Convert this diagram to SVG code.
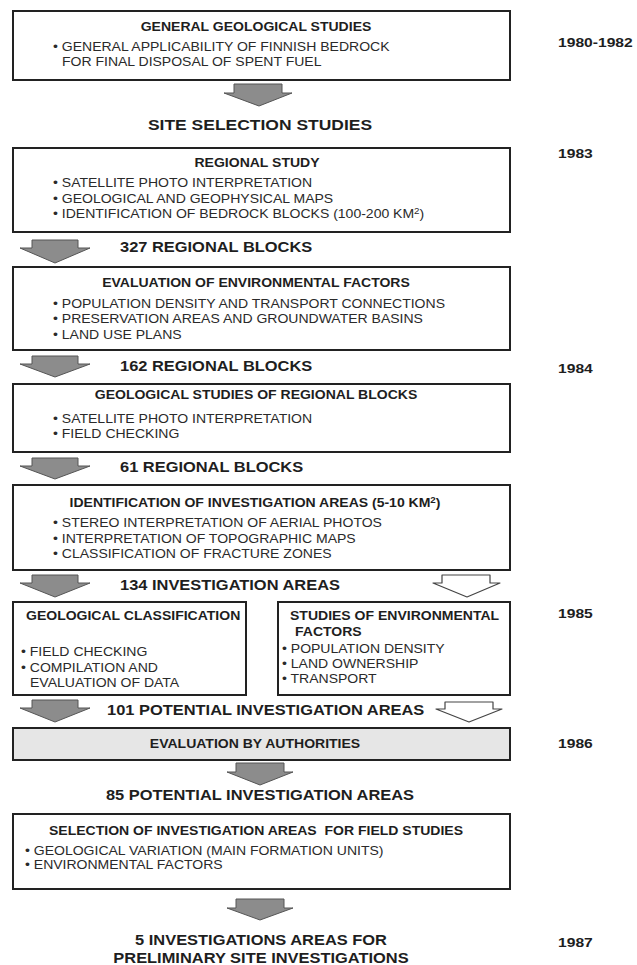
<svg xmlns="http://www.w3.org/2000/svg" width="637" height="965" viewBox="0 0 637 965">
<style>
text{font-family:"Liberation Sans",Arial,sans-serif;fill:#1e1e1e}
.t{font-size:12.2px;fill:#2a2a2a}
.h{font-size:12.2px;font-weight:bold}
.L{font-size:14.3px;font-weight:bold}
.y{font-size:13.6px;font-weight:bold}
.m{text-anchor:middle}
.box{fill:#fff;stroke:#222;stroke-width:2}
.gray{fill:#e6e6e6}
.ga{fill:#8c8c8c;stroke:#555;stroke-width:1;stroke-linejoin:round}
.wa{fill:#fff;stroke:#444;stroke-width:1.2;stroke-linejoin:round}
</style>
<g id="connectors">
<path class="ga" d="M234,84 H282 V93 H292 L259,106 L224,93 H234 Z"/>
<path class="ga" d="M32,240 H78 V248 H90 L55,263 L20,248 H32 Z"/>
<path class="ga" d="M32,356 H78 V364 H90 L55,377 L20,364 H32 Z"/>
<path class="ga" d="M32,458 H78 V466 H90 L55,479 L20,466 H32 Z"/>
<path class="ga" d="M32,575 H78 V583 H90 L55,597 L20,583 H32 Z"/>
<path class="wa" d="M442,575 H490 V583 H500 L467,597 L433,583 H442 Z"/>
<path class="ga" d="M32,700 H78 V708 H90 L55,722 L20,708 H32 Z"/>
<path class="wa" d="M445,702 H493 V709 H502 L469,722 L436,709 H445 Z"/>
<path class="ga" d="M236,763 H284 V772 H293 L260,785 L227,772 H236 Z"/>
<path class="ga" d="M236,899 H284 V908 H293 L260,920 L227,908 H236 Z"/>
</g>
<g id="general">
<rect class="box" x="13" y="11" width="497" height="69"/>
<text class="h m" transform="translate(256 31) scale(1.15 1)">GENERAL GEOLOGICAL STUDIES</text>
<text class="t" transform="translate(53 51) scale(1.15 1)">• GENERAL APPLICABILITY OF FINNISH BEDROCK</text>
<text class="t" transform="translate(62 66) scale(1.15 1)">FOR FINAL DISPOSAL OF SPENT FUEL</text>
</g>
<g id="years">
<text class="y" transform="translate(558 47) scale(1.15 1)">1980-1982</text>
<text class="y" transform="translate(558 158) scale(1.15 1)">1983</text>
<text class="y" transform="translate(558 373) scale(1.15 1)">1984</text>
<text class="y" transform="translate(558 618) scale(1.15 1)">1985</text>
<text class="y" transform="translate(558 748) scale(1.15 1)">1986</text>
<text class="y" transform="translate(558 947) scale(1.15 1)">1987</text>
</g>
<g id="site-selection">
<text class="L m" style="font-size:15.2px" transform="translate(260 130) scale(1.15 1)">SITE SELECTION STUDIES</text>
</g>
<g id="regional-study">
<rect class="box" x="13" y="148" width="497" height="84"/>
<text class="h m" transform="translate(257 167) scale(1.15 1)">REGIONAL STUDY</text>
<text class="t" transform="translate(53 187) scale(1.15 1)">• SATELLITE PHOTO INTERPRETATION</text>
<text class="t" transform="translate(53 203) scale(1.15 1)">• GEOLOGICAL AND GEOPHYSICAL MAPS</text>
<text class="t" transform="translate(53 218) scale(1.15 1)">• IDENTIFICATION OF BEDROCK BLOCKS (100-200 KM<tspan font-size="8.5" dy="-4">2</tspan><tspan dy="4">)</tspan></text>
</g>
<g id="blocks-327"><text class="L" transform="translate(120 252) scale(1.15 1)">327 REGIONAL BLOCKS</text></g>
<g id="environmental">
<rect class="box" x="13" y="267" width="497" height="83"/>
<text class="h m" transform="translate(256 287) scale(1.15 1)">EVALUATION OF ENVIRONMENTAL FACTORS</text>
<text class="t" transform="translate(53 308) scale(1.15 1)">• POPULATION DENSITY AND TRANSPORT CONNECTIONS</text>
<text class="t" transform="translate(53 323) scale(1.15 1)">• PRESERVATION AREAS AND GROUNDWATER BASINS</text>
<text class="t" transform="translate(53 339) scale(1.15 1)">• LAND USE PLANS</text>
</g>
<g id="blocks-162"><text class="L" transform="translate(120 371) scale(1.15 1)">162 REGIONAL BLOCKS</text></g>
<g id="geological-regional">
<rect class="box" x="13" y="384" width="497" height="68"/>
<text class="h m" transform="translate(256 399) scale(1.15 1)">GEOLOGICAL STUDIES OF REGIONAL BLOCKS</text>
<text class="t" transform="translate(53 423) scale(1.15 1)">• SATELLITE PHOTO INTERPRETATION</text>
<text class="t" transform="translate(53 438) scale(1.15 1)">• FIELD CHECKING</text>
</g>
<g id="blocks-61"><text class="L" transform="translate(120 472) scale(1.15 1)">61 REGIONAL BLOCKS</text></g>
<g id="identification">
<rect class="box" x="13" y="485" width="497" height="85"/>
<text class="h m" transform="translate(255 507) scale(1.15 1)">IDENTIFICATION OF INVESTIGATION AREAS (5-10 KM<tspan font-size="8.5" dy="-4">2</tspan><tspan dy="4">)</tspan></text>
<text class="t" transform="translate(53 527) scale(1.15 1)">• STEREO INTERPRETATION OF AERIAL PHOTOS</text>
<text class="t" transform="translate(53 543) scale(1.15 1)">• INTERPRETATION OF TOPOGRAPHIC MAPS</text>
<text class="t" transform="translate(53 558) scale(1.15 1)">• CLASSIFICATION OF FRACTURE ZONES</text>
</g>
<g id="areas-134"><text class="L" transform="translate(120 590) scale(1.15 1)">134 INVESTIGATION AREAS</text></g>
<g id="geological-classification">
<rect class="box" x="13" y="602" width="233" height="93"/>
<text class="h" transform="translate(26 620) scale(1.15 1)">GEOLOGICAL CLASSIFICATION</text>
<text class="t" transform="translate(21 656) scale(1.15 1)">• FIELD CHECKING</text>
<text class="t" transform="translate(21 672) scale(1.15 1)">• COMPILATION AND</text>
<text class="t" transform="translate(30 687) scale(1.15 1)">EVALUATION OF DATA</text>
</g>
<g id="environmental-studies">
<rect class="box" x="278" y="602" width="232" height="93"/>
<text class="h" transform="translate(290 620) scale(1.15 1)">STUDIES OF ENVIRONMENTAL</text>
<text class="h" transform="translate(295 636) scale(1.15 1)">FACTORS</text>
<text class="t" transform="translate(282 653) scale(1.15 1)">• POPULATION DENSITY</text>
<text class="t" transform="translate(282 668) scale(1.15 1)">• LAND OWNERSHIP</text>
<text class="t" transform="translate(282 683) scale(1.15 1)">• TRANSPORT</text>
</g>
<g id="areas-101"><text class="L" transform="translate(107 715) scale(1.15 1)">101 POTENTIAL INVESTIGATION AREAS</text></g>
<g id="authorities">
<rect class="box gray" x="13" y="728" width="497" height="32"/>
<text class="h m" transform="translate(255 748) scale(1.15 1)">EVALUATION BY AUTHORITIES</text>
</g>
<g id="areas-85"><text class="L m" transform="translate(260 800) scale(1.15 1)">85 POTENTIAL INVESTIGATION AREAS</text></g>
<g id="selection">
<rect class="box" x="13" y="814" width="497" height="75"/>
<text class="h m" transform="translate(256 835) scale(1.15 1)" xml:space="preserve">SELECTION OF INVESTIGATION AREAS  FOR FIELD STUDIES</text>
<text class="t" transform="translate(25 855) scale(1.15 1)">• GEOLOGICAL VARIATION (MAIN FORMATION UNITS)</text>
<text class="t" transform="translate(25 869) scale(1.15 1)">• ENVIRONMENTAL FACTORS</text>
</g>
<g id="final">
<text class="L m" transform="translate(261 945) scale(1.15 1)">5 INVESTIGATIONS AREAS FOR</text>
<text class="L m" transform="translate(261 963) scale(1.15 1)">PRELIMINARY SITE INVESTIGATIONS</text>
</g>
</svg>
